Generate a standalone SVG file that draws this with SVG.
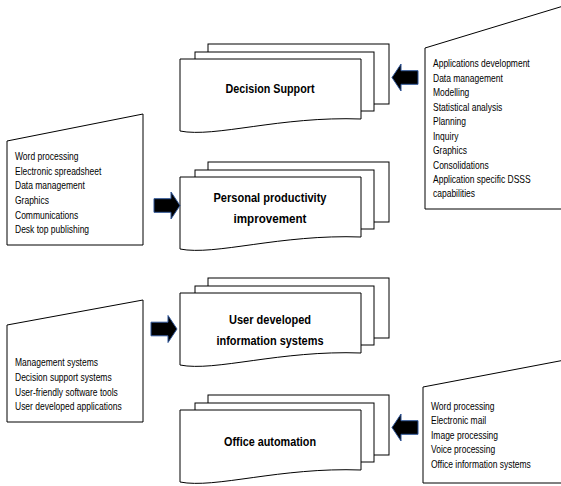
<svg xmlns="http://www.w3.org/2000/svg" width="561" height="486" viewBox="0 0 561 486">
<style>
.pg{fill:#fff;stroke:#000;stroke-width:1}
.box{fill:#fff;stroke:#000;stroke-width:1}
.arr{fill:#000;stroke:#2f5597;stroke-width:1}
.lbl{font-family:"Liberation Sans",Arial,sans-serif;font-weight:bold;font-size:12.5px;fill:#000;text-anchor:middle}
.sm{font-family:"Liberation Sans",Arial,sans-serif;font-size:10px;fill:#000}
</style>
<defs>
<path id="larr" d="M0,0 L9,-13.5 L9,-6.8 L26,-6.8 L26,6.8 L9,6.8 L9,13.5 Z"/>
<path id="rarr" d="M0,0 L-9,-13.5 L-9,-6.8 L-26,-6.8 L-26,6.8 L-9,6.8 L-9,13.5 Z"/>
<g id="stack">
<rect class="pg" x="208" y="0" width="181" height="60"/>
<rect class="pg" x="195" y="8" width="179" height="59"/>
<path class="pg" d="M180,15 H361 V75 C280,72 215,94 180,87 Z"/>
</g>
</defs>

<g id="node-decision-support">
<use href="#stack" transform="translate(0,44)"/>
<text class="lbl" x="270" y="93" textLength="89" lengthAdjust="spacingAndGlyphs">Decision Support</text>
</g>

<g id="node-personal-productivity">
<use href="#stack" transform="translate(0,162)"/>
<text class="lbl" x="270" y="201.5" textLength="113" lengthAdjust="spacingAndGlyphs">Personal productivity</text>
<text class="lbl" x="270" y="223" textLength="73" lengthAdjust="spacingAndGlyphs">improvement</text>
</g>

<g id="node-user-developed">
<use href="#stack" transform="translate(0,278)"/>
<text class="lbl" x="270" y="324" textLength="82" lengthAdjust="spacingAndGlyphs">User developed</text>
<text class="lbl" x="270" y="344.5" textLength="107" lengthAdjust="spacingAndGlyphs">information systems</text>
</g>

<g id="node-office-automation">
<use href="#stack" transform="translate(0,395)"/>
<text class="lbl" x="270" y="446" textLength="92" lengthAdjust="spacingAndGlyphs">Office automation</text>
</g>

<g id="box-dss-tools">
<path class="box" d="M425,48 L570,4 L570,209 L425,209 Z"/>
<g transform="matrix(0.85,0,0,1,433,0)">
<text class="sm" x="0" y="67.5">Applications development</text>
<text class="sm" x="0" y="82">Data management</text>
<text class="sm" x="0" y="96.4">Modelling</text>
<text class="sm" x="0" y="110.8">Statistical analysis</text>
<text class="sm" x="0" y="125.3">Planning</text>
<text class="sm" x="0" y="139.7">Inquiry</text>
<text class="sm" x="0" y="154.2">Graphics</text>
<text class="sm" x="0" y="168.6">Consolidations</text>
<text class="sm" x="0" y="183">Application specific DSSS</text>
<text class="sm" x="0" y="197.5">capabilities</text>
</g>
</g>

<g id="box-personal-tools">
<path class="box" d="M7,141 L143,114 L143,245 L7,245 Z"/>
<g transform="matrix(0.85,0,0,1,15,0)">
<text class="sm" x="0" y="160">Word processing</text>
<text class="sm" x="0" y="174.7">Electronic spreadsheet</text>
<text class="sm" x="0" y="189.4">Data management</text>
<text class="sm" x="0" y="204.1">Graphics</text>
<text class="sm" x="0" y="218.8">Communications</text>
<text class="sm" x="0" y="233.5">Desk top publishing</text>
</g>
</g>

<g id="box-user-tools">
<path class="box" d="M7,325 L143,300 L143,422 L7,422 Z"/>
<g transform="matrix(0.85,0,0,1,15,0)">
<text class="sm" x="0" y="366.5">Management systems</text>
<text class="sm" x="0" y="381.1">Decision support systems</text>
<text class="sm" x="0" y="395.7">User-friendly software tools</text>
<text class="sm" x="0" y="410.3">User developed applications</text>
</g>
</g>

<g id="box-office-tools">
<path class="box" d="M423,387 L570,359 L570,483 L423,483 Z"/>
<g transform="matrix(0.85,0,0,1,431,0)">
<text class="sm" x="0" y="410">Word processing</text>
<text class="sm" x="0" y="424.4">Electronic mail</text>
<text class="sm" x="0" y="438.8">Image processing</text>
<text class="sm" x="0" y="453.2">Voice processing</text>
<text class="sm" x="0" y="467.6">Office information systems</text>
</g>
</g>

<g id="connectors">
<use class="arr" href="#larr" transform="translate(392,77.5)"/>
<use class="arr" href="#rarr" transform="translate(180,205.5)"/>
<use class="arr" href="#rarr" transform="translate(177,329)"/>
<use class="arr" href="#larr" transform="translate(392,427.5)"/>
</g>
</svg>
